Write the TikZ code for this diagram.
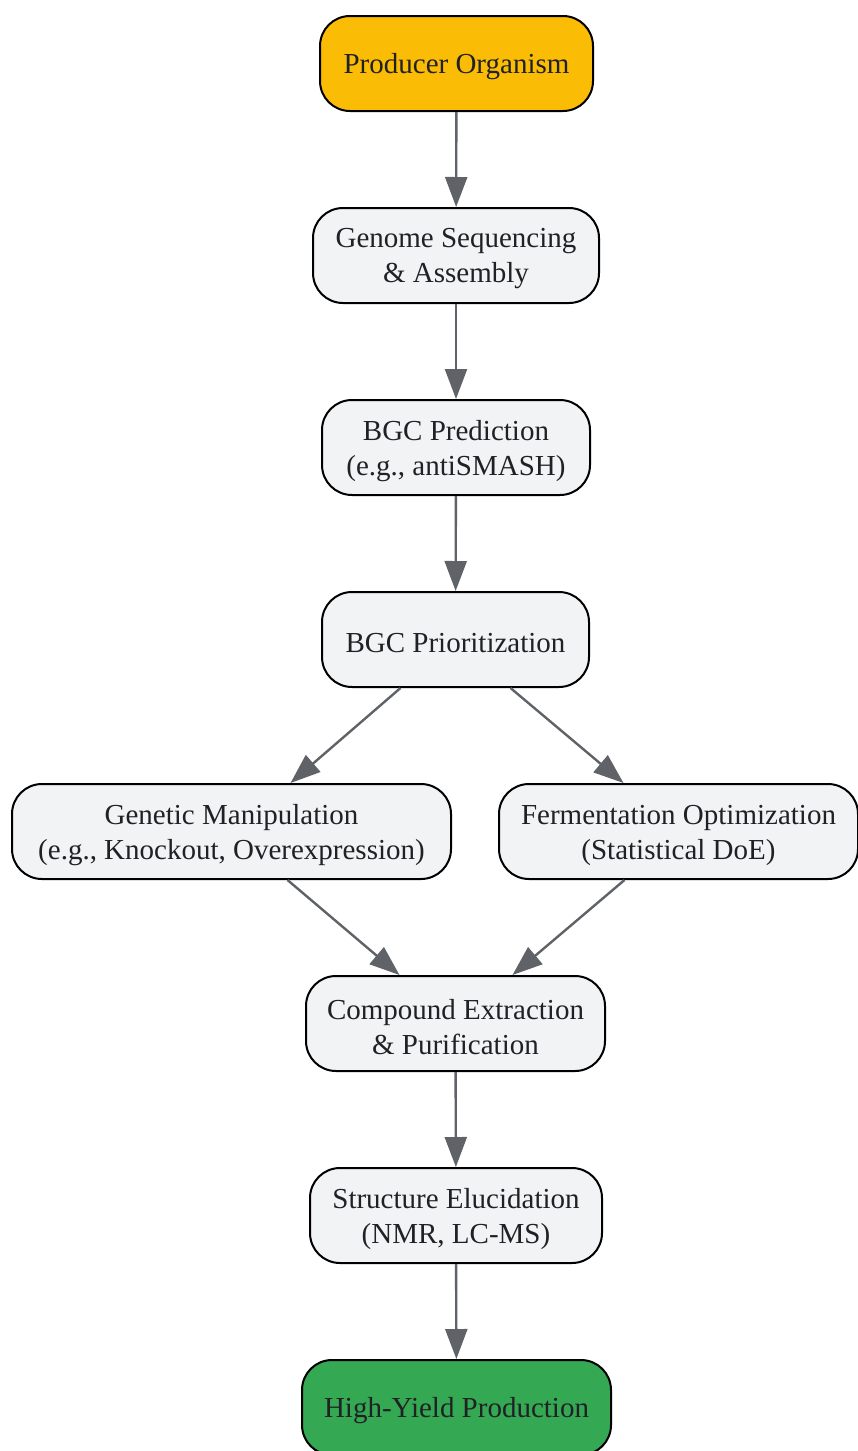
\documentclass[tikz,border=0pt]{standalone}
\usepackage{fontspec}
\setmainfont{Liberation Serif}
\usetikzlibrary{arrows.meta}
\definecolor{gold}{HTML}{FBBC05}
\definecolor{grn}{HTML}{34A853}
\definecolor{lgray}{HTML}{F1F3F4}
\definecolor{edgec}{HTML}{5F6368}
\definecolor{txt}{HTML}{202124}
\tikzset{
  box/.style={draw=black, line width=2pt, rounded corners=30pt, fill=lgray,
    minimum height=95pt, inner sep=0pt},
  lbl/.style={align=center, text=txt, inner sep=0pt, yshift=-3.5pt,
    font=\fontsize{29pt}{35pt}\selectfont},
  conn/.style={draw=edgec, line width=2.4pt, -{Triangle[length=30pt,width=22pt]}}
}
\newcommand\flowbox[5]{%
  \node[box, fill=#4, minimum width=#3] (#1) at (#2) {};
  \node[lbl] (#1t) at (#1.center) {#5};}
\begin{document}
\begin{tikzpicture}[x=1pt,y=-1pt]
\useasboundingbox (0,0) rectangle (857,1451);
\flowbox{a}{456.5,63.5}{273pt}{gold}{Producer Organism}
\flowbox{b}{456,255.5}{286pt}{lgray}{Genome Sequencing\\\& Assembly}
\flowbox{c}{456,447.5}{268pt}{lgray}{BGC Prediction\\(e.g., antiSMASH)}
\flowbox{d}{455.5,639.5}{267pt}{lgray}{BGC Prioritization}
\flowbox{e}{231.5,831.5}{439pt}{lgray}{Genetic Manipulation\\(e.g., Knockout, Overexpression)}
\flowbox{f}{678.5,831.5}{359pt}{lgray}{Fermentation Optimization\\(Statistical DoE)}
\flowbox{g}{455.5,1023.5}{299pt}{lgray}{Compound Extraction\\\& Purification}
\flowbox{h}{456,1215.5}{292pt}{lgray}{Structure Elucidation\\(NMR, LC-MS)}
\flowbox{i}{456.5,1407.5}{309pt}{grn}{High-Yield Production}
\draw[conn] (a) -- (b);
\draw[conn] (b) -- (c);
\draw[conn] (c) -- (d);
\draw[conn] ([xshift=-55pt]d.south) -- ([xshift=59pt]e.north);
\draw[conn] ([xshift=55pt]d.south) -- ([xshift=-55pt]f.north);
\draw[conn] ([xshift=56pt]e.south) -- ([xshift=-56pt]g.north);
\draw[conn] ([xshift=-54pt]f.south) -- ([xshift=57pt]g.north);
\draw[conn] (g) -- (h);
\draw[conn] (h) -- (i);
\end{tikzpicture}
\end{document}
